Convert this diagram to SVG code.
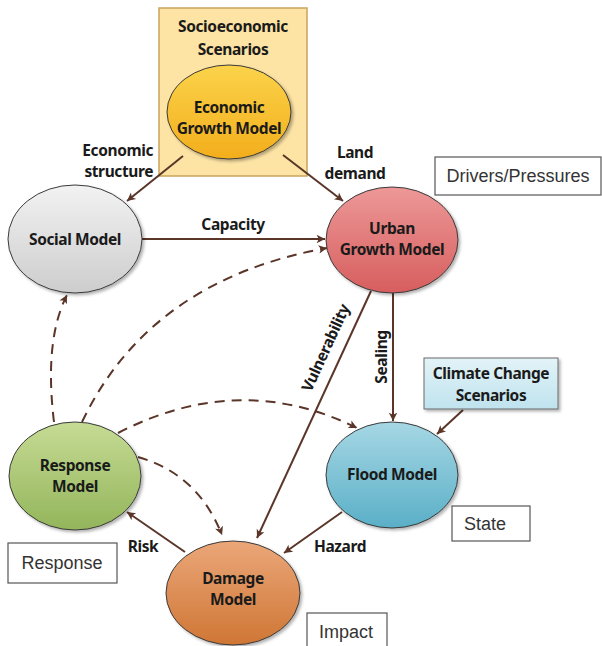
<svg xmlns="http://www.w3.org/2000/svg" width="602" height="646" viewBox="0 0 602 646">
<style>
.lbl{font-family:"Noto Sans","Open Sans",sans-serif;font-weight:bold;font-size:15.5px;letter-spacing:-0.4px;fill:#1a1a1a;text-anchor:middle}
.box{font-family:"Liberation Sans",Arial,sans-serif;font-size:18px;fill:#333;text-anchor:middle}
.node{stroke:#3a3a3a;stroke-width:1}
.con{fill:none;stroke:#5a3528;stroke-width:2}
.dash{stroke-dasharray:10 7}
.plain{fill:#fff;stroke:#555;stroke-width:1.2}
</style>
<defs>
<marker id="ah" viewBox="0 0 10 10" refX="9" refY="5" markerWidth="6" markerHeight="6" orient="auto" markerUnits="userSpaceOnUse" style="overflow:visible">
<path d="M0,0 L10,5 L0,10 L2.5,5 z" fill="#5a3528" transform="scale(1.4) translate(-3.5,-1.5)"/>
</marker>
<linearGradient id="gEco" x1="0" y1="0" x2="0" y2="1"><stop offset="0" stop-color="#fbd34a"/><stop offset="1" stop-color="#f3ae1c"/></linearGradient>
<linearGradient id="gSoc" x1="0" y1="0" x2="0" y2="1"><stop offset="0" stop-color="#f2f2f2"/><stop offset="1" stop-color="#cdcdcd"/></linearGradient>
<linearGradient id="gUrb" x1="0" y1="0" x2="0" y2="1"><stop offset="0" stop-color="#ed9898"/><stop offset="1" stop-color="#d75e5e"/></linearGradient>
<linearGradient id="gRes" x1="0" y1="0" x2="0" y2="1"><stop offset="0" stop-color="#c6db94"/><stop offset="1" stop-color="#93b55b"/></linearGradient>
<linearGradient id="gFlo" x1="0" y1="0" x2="0" y2="1"><stop offset="0" stop-color="#a6d7e4"/><stop offset="1" stop-color="#5aafc7"/></linearGradient>
<linearGradient id="gDam" x1="0" y1="0" x2="0" y2="1"><stop offset="0" stop-color="#eba779"/><stop offset="1" stop-color="#cf7635"/></linearGradient>
<linearGradient id="gCli" x1="0" y1="0" x2="0" y2="1"><stop offset="0" stop-color="#e3f3f8"/><stop offset="1" stop-color="#bfe3ee"/></linearGradient>
<filter id="sh" x="-20%" y="-20%" width="140%" height="140%"><feDropShadow dx="2" dy="2" stdDeviation="1.5" flood-color="#000" flood-opacity="0.3"/></filter>
</defs>

<g id="socioeconomic-scenarios">
<rect x="159" y="8" width="148" height="168" fill="#fde3a4" stroke="#c9a45e" stroke-width="1.5"/>
<text class="lbl" x="233" y="32">Socioeconomic</text>
<text class="lbl" x="233" y="55">Scenarios</text>
</g>

<g id="connectors">
<line class="con" x1="183" y1="156" x2="127" y2="201" marker-end="url(#ah)"/>
<line class="con" x1="283" y1="155" x2="343" y2="201" marker-end="url(#ah)"/>
<line class="con" x1="142" y1="239" x2="325" y2="239" marker-end="url(#ah)"/>
<line class="con" x1="393" y1="293" x2="393" y2="421" marker-end="url(#ah)"/>
<line class="con" x1="371" y1="291" x2="257" y2="538" marker-end="url(#ah)"/>
<line class="con" x1="342" y1="512" x2="284" y2="553" marker-end="url(#ah)"/>
<line class="con" x1="185" y1="552" x2="127" y2="512" marker-end="url(#ah)"/>
<line class="con" x1="463" y1="410" x2="437" y2="434" marker-end="url(#ah)"/>
<path class="con dash" d="M54 422 Q44 340 67 295" marker-end="url(#ah)"/>
<path class="con dash" d="M82 422 Q150 280 327 248" marker-end="url(#ah)"/>
<path class="con dash" d="M118 433 Q240 370 357 428" marker-end="url(#ah)"/>
<path class="con dash" d="M138 457 Q198 474 222 535" marker-end="url(#ah)"/>
<text class="lbl" x="153" y="156" style="text-anchor:end">Economic</text>
<text class="lbl" x="153" y="177" style="text-anchor:end">structure</text>
<text class="lbl" x="355" y="158">Land</text>
<text class="lbl" x="355" y="179">demand</text>
<text class="lbl" x="233" y="230">Capacity</text>
<text class="lbl" transform="translate(326,348) rotate(-65.5)" y="5">Vulnerability</text>
<text class="lbl" transform="translate(382,357) rotate(-90)" y="5">Sealing</text>
<text class="lbl" x="143" y="552">Risk</text>
<text class="lbl" x="340" y="552">Hazard</text>
</g>

<g id="economic-growth-model">
<ellipse class="node" cx="229" cy="112" rx="62" ry="47" fill="url(#gEco)" filter="url(#sh)"/>
<text class="lbl" x="229" y="113">Economic</text>
<text class="lbl" x="229" y="134">Growth Model</text>
</g>
<g id="social-model">
<ellipse class="node" cx="75" cy="239" rx="67" ry="54" fill="url(#gSoc)" filter="url(#sh)"/>
<text class="lbl" x="75" y="245">Social Model</text>
</g>
<g id="urban-growth-model">
<ellipse class="node" cx="392" cy="240" rx="66" ry="53" fill="url(#gUrb)" filter="url(#sh)"/>
<text class="lbl" x="392" y="234">Urban</text>
<text class="lbl" x="392" y="255">Growth Model</text>
</g>
<g id="response-model">
<ellipse class="node" cx="75" cy="476" rx="66" ry="54" fill="url(#gRes)" filter="url(#sh)"/>
<text class="lbl" x="75" y="471">Response</text>
<text class="lbl" x="75" y="492">Model</text>
</g>
<g id="flood-model">
<ellipse class="node" cx="392" cy="475" rx="66" ry="53" fill="url(#gFlo)" filter="url(#sh)"/>
<text class="lbl" x="392" y="480">Flood Model</text>
</g>
<g id="damage-model">
<ellipse class="node" cx="233" cy="593" rx="67" ry="52" fill="url(#gDam)" filter="url(#sh)"/>
<text class="lbl" x="233" y="584">Damage</text>
<text class="lbl" x="233" y="605">Model</text>
</g>
<g id="climate-change-scenarios">
<rect x="424" y="358" width="134" height="51" fill="url(#gCli)" stroke="#6a6a6a" stroke-width="1" filter="url(#sh)"/>
<text class="lbl" x="491" y="379">Climate Change</text>
<text class="lbl" x="491" y="401">Scenarios</text>
</g>
<g id="drivers-pressures">
<rect class="plain" x="435" y="157" width="166" height="38"/>
<text class="box" x="518" y="182">Drivers/Pressures</text>
</g>
<g id="state">
<rect class="plain" x="452" y="506" width="78" height="35"/>
<text class="box" x="485" y="530">State</text>
</g>
<g id="response">
<rect class="plain" x="8" y="543" width="109" height="40"/>
<text class="box" x="62" y="569">Response</text>
</g>
<g id="impact">
<rect class="plain" x="307" y="613" width="80" height="40"/>
<text class="box" x="346" y="638">Impact</text>
</g>
</svg>
